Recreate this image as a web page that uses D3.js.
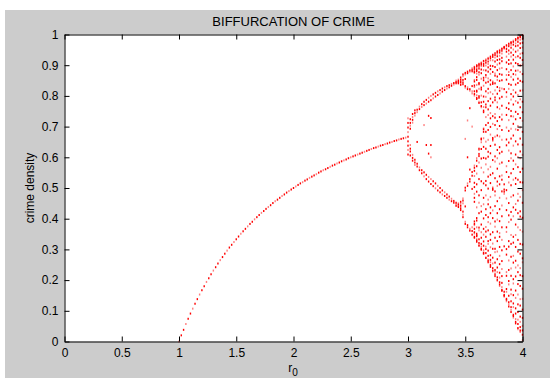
<!DOCTYPE html>
<html>
<head>
<meta charset="utf-8">
<script src="https://cdn.jsdelivr.net/npm/d3@7"></script>
<style>
  body { margin: 0; background: #fff; }
  text { font-family: Arial, "Liberation Sans", Helvetica, sans-serif; fill: #000; }
</style>
</head>
<body>
<svg id="chart" width="550" height="378"></svg>
<script>
// single stable branch, r0 = 1.00 .. 2.98
const rSteady = [
  1.00, 1.02, 1.04, 1.06, 1.08, 1.10, 1.12, 1.14, 1.16, 1.18,
  1.20, 1.22, 1.24, 1.26, 1.28, 1.30, 1.32, 1.34, 1.36, 1.38,
  1.40, 1.42, 1.44, 1.46, 1.48, 1.50, 1.52, 1.54, 1.56, 1.58,
  1.60, 1.62, 1.64, 1.66, 1.68, 1.70, 1.72, 1.74, 1.76, 1.78,
  1.80, 1.82, 1.84, 1.86, 1.88, 1.90, 1.92, 1.94, 1.96, 1.98,
  2.00, 2.02, 2.04, 2.06, 2.08, 2.10, 2.12, 2.14, 2.16, 2.18,
  2.20, 2.22, 2.24, 2.26, 2.28, 2.30, 2.32, 2.34, 2.36, 2.38,
  2.40, 2.42, 2.44, 2.46, 2.48, 2.50, 2.52, 2.54, 2.56, 2.58,
  2.60, 2.62, 2.64, 2.66, 2.68, 2.70, 2.72, 2.74, 2.76, 2.78,
  2.80, 2.82, 2.84, 2.86, 2.88, 2.90, 2.92, 2.94, 2.96, 2.98
];
const densitySteady = [
  0.000, 0.020, 0.038, 0.057, 0.074, 0.091, 0.107, 0.123, 0.138, 0.153,
  0.167, 0.180, 0.194, 0.206, 0.219, 0.231, 0.242, 0.254, 0.265, 0.275,
  0.286, 0.296, 0.306, 0.315, 0.324, 0.333, 0.342, 0.351, 0.359, 0.367,
  0.375, 0.383, 0.390, 0.398, 0.405, 0.412, 0.419, 0.425, 0.432, 0.438,
  0.444, 0.451, 0.457, 0.462, 0.468, 0.474, 0.479, 0.485, 0.490, 0.495,
  0.500, 0.505, 0.510, 0.515, 0.519, 0.524, 0.528, 0.533, 0.537, 0.541,
  0.545, 0.550, 0.554, 0.558, 0.561, 0.565, 0.569, 0.573, 0.576, 0.580,
  0.583, 0.587, 0.590, 0.593, 0.597, 0.600, 0.603, 0.606, 0.609, 0.612,
  0.615, 0.618, 0.621, 0.624, 0.627, 0.630, 0.632, 0.635, 0.638, 0.640,
  0.643, 0.645, 0.648, 0.650, 0.653, 0.655, 0.658, 0.660, 0.662, 0.664
];

// split / chaotic part, r0 = 3.00 .. 4.00, several densities per column
const rSplit = [
  3.00, 3.02, 3.04, 3.06, 3.08, 3.10, 3.12, 3.14, 3.16, 3.18,
  3.20, 3.22, 3.24, 3.26, 3.28, 3.30, 3.32, 3.34, 3.36, 3.38,
  3.40, 3.42, 3.44, 3.46, 3.48, 3.50, 3.52, 3.54, 3.56, 3.58,
  3.60, 3.62, 3.64, 3.66, 3.68, 3.70, 3.72, 3.74, 3.76, 3.78,
  3.80, 3.82, 3.84, 3.86, 3.88, 3.90, 3.92, 3.94, 3.96, 3.98,
  4.00
];
const densitySplit = [
  [0.667, 0.652, 0.682, 0.638, 0.697, 0.624, 0.712, 0.609, 0.727],
  [0.712, 0.619, 0.703, 0.628, 0.693, 0.640, 0.724, 0.606],
  [0.731, 0.598, 0.722, 0.608, 0.741, 0.589, 0.713],
  [0.744, 0.583, 0.736, 0.592, 0.753, 0.575],
  [0.755, 0.570, 0.747, 0.579, 0.650],
  [0.765, 0.558, 0.757, 0.567],
  [0.773, 0.548, 0.764, 0.558],
  [0.781, 0.538, 0.770, 0.551, 0.705],
  [0.787, 0.529, 0.775, 0.543, 0.640],
  [0.794, 0.521, 0.781, 0.536, 0.735, 0.612],
  [0.800, 0.513, 0.786, 0.529, 0.728, 0.640, 0.600],
  [0.805, 0.506, 0.792, 0.522],
  [0.810, 0.499, 0.798, 0.515],
  [0.815, 0.492, 0.803, 0.507],
  [0.819, 0.486, 0.808, 0.500],
  [0.824, 0.479, 0.814, 0.492],
  [0.828, 0.474, 0.819, 0.486],
  [0.832, 0.468, 0.824, 0.479],
  [0.835, 0.462, 0.828, 0.472],
  [0.839, 0.457, 0.833, 0.465],
  [0.842, 0.452, 0.837, 0.458],
  [0.845, 0.447, 0.841, 0.452, 0.850, 0.442],
  [0.849, 0.442, 0.845, 0.446, 0.853, 0.438, 0.841, 0.450],
  [0.853, 0.845, 0.449, 0.434, 0.860, 0.840, 0.455, 0.428, 0.850, 0.442, 0.836],
  [0.864, 0.844, 0.459, 0.413, 0.870, 0.838, 0.466, 0.405, 0.852, 0.450, 0.423],
  [0.875, 0.827, 0.501, 0.383, 0.870, 0.832, 0.492, 0.390, 0.855, 0.440, 0.660],
  [0.879, 0.822, 0.515, 0.372, 0.874, 0.828, 0.507, 0.379, 0.720, 0.600],
  [0.883, 0.817, 0.529, 0.361, 0.879, 0.822, 0.521, 0.367, 0.760, 0.560],
  [0.890, 0.880, 0.832, 0.808, 0.552, 0.497, 0.372, 0.348, 0.885, 0.815, 0.540, 0.360, 0.700],
  [0.338, 0.341, 0.352, 0.356, 0.367, 0.379, 0.383, 0.391, 0.801, 0.806, 0.815, 0.829, 0.834, 0.847, 0.852,
   0.455, 0.468, 0.481, 0.503, 0.517, 0.539, 0.556, 0.566, 0.573, 0.876, 0.879, 0.884, 0.888, 0.893, 0.895],
  [0.325, 0.329, 0.333, 0.346, 0.351, 0.372, 0.394, 0.402, 0.437, 0.488, 0.512, 0.547, 0.571, 0.589, 0.597,
   0.790, 0.793, 0.802, 0.814, 0.817, 0.836, 0.852, 0.861, 0.873, 0.881, 0.886, 0.892, 0.897, 0.899, 0.900, 0.343],
  [0.312, 0.314, 0.321, 0.333, 0.362, 0.371, 0.418, 0.452, 0.476, 0.529, 0.583, 0.604, 0.611, 0.624, 0.628,
   0.777, 0.781, 0.794, 0.799, 0.823, 0.838, 0.842, 0.869, 0.877, 0.889, 0.894, 0.899, 0.903, 0.905],
  [0.299, 0.302, 0.309, 0.318, 0.338, 0.356, 0.381, 0.423, 0.441, 0.493, 0.522, 0.566, 0.596, 0.627, 0.649,
   0.658, 0.661, 0.763, 0.767, 0.779, 0.801, 0.821, 0.827, 0.856, 0.874, 0.886, 0.897, 0.902, 0.906, 0.909],
  [0.286, 0.289, 0.297, 0.312, 0.326, 0.348, 0.367, 0.401, 0.447, 0.468, 0.515, 0.551, 0.598, 0.634, 0.662,
   0.683, 0.691, 0.694, 0.747, 0.752, 0.764, 0.781, 0.798, 0.833, 0.851, 0.859, 0.884, 0.898, 0.904, 0.911, 0.914],
  [0.272, 0.274, 0.288, 0.301, 0.309, 0.341, 0.358, 0.373, 0.412, 0.431, 0.476, 0.509, 0.523, 0.577, 0.596,
   0.628, 0.651, 0.683, 0.705, 0.731, 0.763, 0.772, 0.797, 0.815, 0.843, 0.861, 0.868, 0.883, 0.899, 0.908, 0.915, 0.919],
  [0.258, 0.263, 0.267, 0.279, 0.296, 0.318, 0.327, 0.362, 0.389, 0.405, 0.447, 0.462, 0.498, 0.537, 0.561,
   0.602, 0.618, 0.657, 0.689, 0.712, 0.738, 0.756, 0.783, 0.809, 0.823, 0.846, 0.857, 0.879, 0.893, 0.904, 0.912, 0.921, 0.924],
  [0.243, 0.249, 0.258, 0.266, 0.281, 0.307, 0.331, 0.349, 0.384, 0.418, 0.437, 0.471, 0.516, 0.543, 0.569,
   0.613, 0.637, 0.674, 0.699, 0.727, 0.744, 0.768, 0.791, 0.812, 0.837, 0.851, 0.872, 0.887, 0.898, 0.916, 0.923, 0.928],
  [0.228, 0.231, 0.239, 0.254, 0.273, 0.302, 0.319, 0.356, 0.402, 0.427, 0.494, 0.498, 0.502, 0.548, 0.591,
   0.654, 0.658, 0.663, 0.709, 0.734, 0.779, 0.806, 0.839, 0.843, 0.847, 0.878, 0.897, 0.916, 0.927, 0.933, 0.935],
  [0.213, 0.219, 0.228, 0.233, 0.257, 0.291, 0.302, 0.338, 0.374, 0.391, 0.441, 0.476, 0.489, 0.532, 0.586,
   0.603, 0.641, 0.667, 0.705, 0.729, 0.741, 0.786, 0.795, 0.818, 0.841, 0.866, 0.873, 0.894, 0.912, 0.925, 0.933, 0.939],
  [0.198, 0.201, 0.209, 0.226, 0.241, 0.268, 0.293, 0.327, 0.358, 0.397, 0.418, 0.457, 0.507, 0.521, 0.563,
   0.597, 0.624, 0.671, 0.692, 0.718, 0.763, 0.779, 0.807, 0.829, 0.852, 0.863, 0.884, 0.902, 0.917, 0.929, 0.937, 0.942, 0.945],
  [0.181, 0.186, 0.193, 0.208, 0.224, 0.252, 0.279, 0.308, 0.341, 0.353, 0.392, 0.431, 0.468, 0.512, 0.538,
   0.579, 0.613, 0.633, 0.668, 0.702, 0.731, 0.758, 0.792, 0.817, 0.826, 0.849, 0.871, 0.889, 0.906, 0.919, 0.931, 0.941, 0.947, 0.950],
  [0.165, 0.168, 0.177, 0.191, 0.213, 0.236, 0.262, 0.297, 0.331, 0.372, 0.408, 0.443, 0.489, 0.527, 0.541,
   0.583, 0.618, 0.657, 0.689, 0.723, 0.739, 0.768, 0.797, 0.824, 0.851, 0.869, 0.891, 0.913, 0.924, 0.938, 0.947, 0.953, 0.955],
  [0.149, 0.152, 0.146, 0.488, 0.495, 0.481, 0.959, 0.957, 0.960, 0.162, 0.512, 0.954, 0.310, 0.822],
  [0.131, 0.136, 0.139, 0.162, 0.171, 0.214, 0.226, 0.283, 0.301, 0.357, 0.372, 0.428, 0.466, 0.493, 0.552,
   0.571, 0.639, 0.658, 0.697, 0.738, 0.761, 0.797, 0.812, 0.853, 0.868, 0.887, 0.909, 0.928, 0.944, 0.953, 0.961, 0.965],
  [0.114, 0.121, 0.128, 0.149, 0.186, 0.197, 0.233, 0.264, 0.309, 0.327, 0.389, 0.411, 0.451, 0.518, 0.536,
   0.588, 0.622, 0.648, 0.686, 0.721, 0.757, 0.776, 0.823, 0.839, 0.868, 0.878, 0.904, 0.917, 0.937, 0.948, 0.962, 0.967, 0.970],
  [0.096, 0.103, 0.112, 0.131, 0.154, 0.169, 0.214, 0.238, 0.276, 0.318, 0.347, 0.397, 0.422, 0.471, 0.509,
   0.548, 0.597, 0.613, 0.661, 0.693, 0.734, 0.751, 0.788, 0.806, 0.836, 0.862, 0.884, 0.906, 0.928, 0.941, 0.957, 0.966, 0.972, 0.975],
  [0.078, 0.083, 0.087, 0.112, 0.124, 0.151, 0.189, 0.203, 0.257, 0.279, 0.322, 0.341, 0.408, 0.437, 0.476,
   0.527, 0.562, 0.589, 0.638, 0.671, 0.709, 0.733, 0.772, 0.798, 0.819, 0.853, 0.871, 0.896, 0.918, 0.933, 0.951, 0.967, 0.976, 0.980],
  [0.059, 0.064, 0.073, 0.091, 0.108, 0.142, 0.166, 0.212, 0.241, 0.263, 0.308, 0.347, 0.381, 0.429, 0.448,
   0.513, 0.532, 0.577, 0.609, 0.652, 0.691, 0.724, 0.748, 0.783, 0.811, 0.837, 0.869, 0.882, 0.907, 0.926, 0.944, 0.962, 0.971, 0.981, 0.985],
  [0.040, 0.044, 0.057, 0.071, 0.096, 0.121, 0.153, 0.187, 0.226, 0.248, 0.293, 0.331, 0.372, 0.418, 0.459,
   0.481, 0.527, 0.568, 0.601, 0.642, 0.689, 0.702, 0.741, 0.778, 0.803, 0.842, 0.856, 0.883, 0.904, 0.929, 0.948, 0.964, 0.976, 0.983, 0.988, 0.990],
  [0.031, 0.036, 0.047, 0.064, 0.081, 0.117, 0.138, 0.181, 0.216, 0.239, 0.286, 0.318, 0.363, 0.407, 0.424,
   0.471, 0.519, 0.552, 0.597, 0.619, 0.661, 0.697, 0.728, 0.763, 0.789, 0.817, 0.849, 0.878, 0.899, 0.924, 0.937, 0.956, 0.971, 0.983, 0.991, 0.995],
  [0.004, 0.022, 0.036, 0.051, 0.077, 0.104, 0.139, 0.172, 0.213, 0.258, 0.271, 0.316, 0.358, 0.403, 0.452,
   0.493, 0.518, 0.563, 0.608, 0.641, 0.683, 0.719, 0.747, 0.781, 0.818, 0.846, 0.871, 0.902, 0.917, 0.939, 0.958, 0.973, 0.986, 0.993, 0.998]
];

const xTicks = [0, 0.5, 1, 1.5, 2, 2.5, 3, 3.5, 4];
const yTicks = [0, 0.1, 0.2, 0.3, 0.4, 0.5, 0.6, 0.7, 0.8, 0.9, 1];

const svg = d3.select("#chart");

// grey figure background
svg.append("rect").attr("x", 5).attr("y", 10).attr("width", 545).attr("height", 368).attr("fill", "#cccccc");

const x = d3.scaleLinear().domain([0, 4]).range([64.5, 522.5]);
const y = d3.scaleLinear().domain([0, 1]).range([341.5, 34.5]);

svg.append("rect")
  .attr("x", 64.5).attr("y", 34.5)
  .attr("width", 458).attr("height", 307)
  .attr("fill", "#fff");

// points
const pts = rSteady.map((r, i) => ({ r: r, v: densitySteady[i] }));
rSplit.forEach((r, i) => {
  densitySplit[i].forEach(v => pts.push({ r: r, v: v }));
});

svg.append("g")
  .selectAll("rect")
  .data(pts)
  .enter()
  .append("rect")
  .attr("x", d => x(d.r) - 0.7)
  .attr("y", d => y(d.v) - 1)
  .attr("width", 1.4)
  .attr("height", 2)
  .attr("fill", "#ff0000")
  .attr("fill-opacity", (d, i) => i % 3 === 0 ? 0.5 : 1);

// axes, ticks pointing inward like matlab
const fmt = d => String(d);
svg.append("g").attr("transform", "translate(0,341.5)")
  .call(d3.axisBottom(x).tickValues(xTicks).tickFormat(fmt).tickSize(-5).tickSizeOuter(0).tickPadding(7));
svg.append("g").attr("transform", "translate(64.5,0)")
  .call(d3.axisLeft(y).tickValues(yTicks).tickFormat(fmt).tickSize(-5).tickSizeOuter(0).tickPadding(6));
svg.append("g").attr("transform", "translate(0,34.5)")
  .call(d3.axisTop(x).tickValues(xTicks).tickFormat("").tickSize(-5).tickSizeOuter(0));
svg.append("g").attr("transform", "translate(522.5,0)")
  .call(d3.axisRight(y).tickValues(yTicks).tickFormat("").tickSize(-5).tickSizeOuter(0));

svg.selectAll(".domain").attr("stroke", "#000");
svg.selectAll(".tick line").attr("stroke", "#000");
svg.selectAll(".tick text")
  .style("font-family", "Arial, 'Liberation Sans', sans-serif")
  .style("font-size", "12px")
  .attr("fill", "#000");

// title and labels
svg.append("text")
  .attr("x", 293.5).attr("y", 26)
  .attr("text-anchor", "middle")
  .style("font-size", "13px")
  .text("BIFFURCATION OF CRIME");

svg.append("text")
  .attr("transform", "translate(34,188) rotate(-90)")
  .attr("text-anchor", "middle")
  .style("font-size", "12px")
  .text("crime density");

const xl = svg.append("text")
  .attr("x", 293).attr("y", 372)
  .attr("text-anchor", "middle")
  .style("font-size", "12px");
xl.append("tspan").text("r");
xl.append("tspan").attr("dy", 4).style("font-size", "10px").text("0");
</script>
</body>
</html>
